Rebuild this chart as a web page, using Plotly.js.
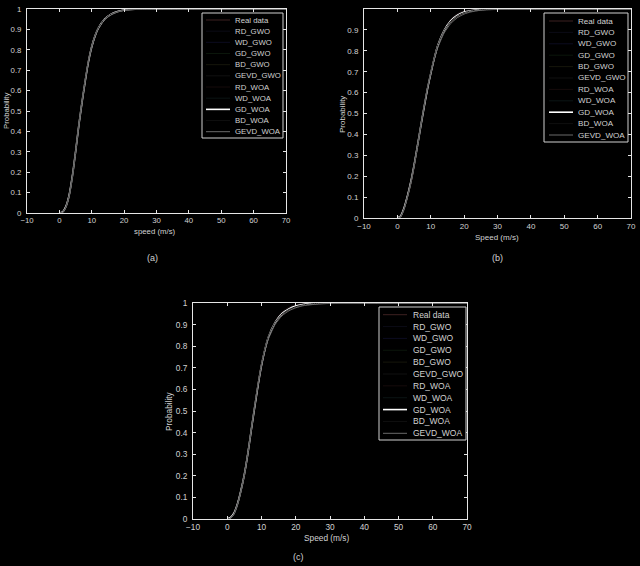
<!DOCTYPE html>
<html>
<head>
<meta charset="utf-8">
<script src="https://cdn.plot.ly/plotly-3.0.1.min.js"></script>
<style>html,body{margin:0;padding:0;background:#000;}#chart{width:640px;height:566px;}</style>
</head>
<body>
<div id="chart"></div>
<script>
// ---------- data ----------
const speed = [0,1,2,3,4,5,6,7,8,9,10,11,12,14,16,18,20,22,25,30,40,70];
const seriesNames = ['Real data','RD_GWO','WD_GWO','GD_GWO','BD_GWO','GEVD_GWO','RD_WOA','WD_WOA','GD_WOA','BD_WOA','GEVD_WOA'];
const xTickVals = [-10,0,10,20,30,40,50,60,70];

// panel (a)
const realA    = [0,0.003,0.030,0.080,0.180,0.300,0.430,0.540,0.650,0.750,0.820,0.870,0.905,0.950,0.973,0.987,0.994,0.998,0.999,1,1,1];
const rdGwoA   = [0,0.006,0.035,0.090,0.180,0.290,0.420,0.540,0.650,0.740,0.810,0.865,0.905,0.952,0.977,0.990,0.996,0.998,1,1,1,1];
const wdGwoA   = [0,0.004,0.030,0.085,0.175,0.295,0.425,0.545,0.650,0.745,0.815,0.868,0.906,0.953,0.976,0.988,0.995,0.998,0.999,1,1,1];
const gdGwoA   = [0,0.005,0.032,0.087,0.178,0.298,0.428,0.542,0.648,0.742,0.815,0.866,0.904,0.951,0.975,0.988,0.995,0.998,1,1,1,1];
const bdGwoA   = [0,0.004,0.028,0.083,0.177,0.300,0.430,0.545,0.652,0.748,0.818,0.870,0.907,0.952,0.975,0.987,0.994,0.997,0.999,1,1,1];
const gevdGwoA = [0,0.002,0.027,0.080,0.180,0.302,0.432,0.540,0.646,0.744,0.816,0.866,0.902,0.948,0.972,0.986,0.993,0.997,0.999,1,1,1];
const rdWoaA   = [0,0.006,0.036,0.091,0.182,0.292,0.421,0.541,0.650,0.741,0.811,0.866,0.905,0.953,0.978,0.990,0.996,0.999,1,1,1,1];
const wdWoaA   = [0,0.004,0.031,0.086,0.176,0.296,0.426,0.546,0.651,0.746,0.816,0.868,0.906,0.952,0.976,0.988,0.995,0.998,0.999,1,1,1];
const gdWoaA   = [0,0.005,0.031,0.086,0.179,0.299,0.429,0.543,0.649,0.743,0.815,0.867,0.905,0.951,0.975,0.988,0.995,0.998,1,1,1,1];
const bdWoaA   = [0,0.004,0.029,0.084,0.176,0.299,0.431,0.546,0.653,0.747,0.817,0.869,0.907,0.952,0.975,0.987,0.994,0.997,0.999,1,1,1];
const gevdWoaA = [0,0.002,0.026,0.081,0.181,0.303,0.431,0.541,0.647,0.745,0.815,0.865,0.902,0.948,0.971,0.985,0.993,0.997,0.999,1,1,1];

// panel (b)
const realB    = [0,0.008,0.045,0.100,0.160,0.240,0.340,0.440,0.530,0.620,0.690,0.765,0.825,0.895,0.940,0.966,0.981,0.990,0.997,1,1,1];
const rdGwoB   = [0,0.012,0.050,0.105,0.175,0.255,0.345,0.435,0.525,0.610,0.685,0.755,0.815,0.900,0.950,0.977,0.990,0.996,0.999,1,1,1];
const wdGwoB   = [0,0.009,0.046,0.102,0.168,0.250,0.342,0.438,0.530,0.616,0.692,0.760,0.820,0.897,0.944,0.970,0.985,0.993,0.998,1,1,1];
const gdGwoB   = [0,0.010,0.047,0.103,0.170,0.251,0.343,0.437,0.528,0.615,0.690,0.759,0.819,0.896,0.943,0.969,0.984,0.992,0.998,1,1,1];
const bdGwoB   = [0,0.008,0.044,0.100,0.166,0.248,0.341,0.439,0.532,0.619,0.694,0.762,0.822,0.896,0.941,0.967,0.982,0.991,0.997,0.999,1,1];
const gevdGwoB = [0,0.005,0.040,0.098,0.168,0.252,0.346,0.442,0.534,0.618,0.690,0.755,0.810,0.884,0.930,0.958,0.975,0.985,0.994,0.998,1,1];
const rdWoaB   = [0,0.012,0.051,0.106,0.176,0.256,0.346,0.436,0.526,0.611,0.686,0.756,0.816,0.901,0.951,0.978,0.990,0.996,0.999,1,1,1];
const wdWoaB   = [0,0.009,0.046,0.101,0.167,0.249,0.341,0.437,0.529,0.617,0.693,0.761,0.821,0.898,0.945,0.971,0.986,0.993,0.998,1,1,1];
const gdWoaB   = [0,0.010,0.048,0.104,0.171,0.252,0.344,0.438,0.529,0.616,0.691,0.760,0.820,0.897,0.944,0.970,0.985,0.992,0.998,1,1,1];
const bdWoaB   = [0,0.008,0.045,0.101,0.167,0.249,0.342,0.440,0.533,0.620,0.695,0.763,0.823,0.897,0.942,0.968,0.983,0.991,0.997,0.999,1,1];
const gevdWoaB = [0,0.005,0.041,0.099,0.169,0.253,0.347,0.443,0.535,0.619,0.691,0.756,0.811,0.885,0.931,0.959,0.976,0.986,0.994,0.998,1,1];

// panel (c)
const realC    = [0,0.005,0.025,0.070,0.130,0.200,0.300,0.410,0.520,0.630,0.720,0.790,0.840,0.905,0.945,0.966,0.980,0.988,0.995,0.999,1,1];
const rdGwoC   = [0,0.009,0.033,0.075,0.135,0.212,0.305,0.408,0.512,0.612,0.702,0.778,0.838,0.915,0.958,0.980,0.991,0.996,0.999,1,1,1];
const wdGwoC   = [0,0.006,0.027,0.070,0.131,0.206,0.302,0.410,0.518,0.622,0.712,0.785,0.841,0.910,0.950,0.972,0.985,0.992,0.997,1,1,1];
const gdGwoC   = [0,0.007,0.029,0.072,0.133,0.208,0.303,0.409,0.516,0.619,0.710,0.783,0.840,0.910,0.951,0.973,0.986,0.993,0.998,1,1,1];
const bdGwoC   = [0,0.005,0.025,0.068,0.129,0.204,0.301,0.411,0.520,0.624,0.715,0.788,0.844,0.911,0.949,0.970,0.983,0.991,0.997,0.999,1,1];
const gevdGwoC = [0,0.003,0.021,0.065,0.130,0.209,0.307,0.414,0.520,0.620,0.708,0.778,0.832,0.900,0.940,0.963,0.977,0.986,0.993,0.998,1,1];
const rdWoaC   = [0,0.009,0.034,0.076,0.136,0.213,0.306,0.409,0.513,0.613,0.703,0.779,0.839,0.916,0.959,0.981,0.991,0.996,0.999,1,1,1];
const wdWoaC   = [0,0.006,0.027,0.071,0.132,0.207,0.303,0.411,0.519,0.623,0.713,0.786,0.842,0.910,0.950,0.972,0.985,0.992,0.997,1,1,1];
const gdWoaC   = [0,0.007,0.028,0.071,0.132,0.207,0.302,0.410,0.517,0.620,0.711,0.784,0.841,0.910,0.951,0.973,0.986,0.993,0.998,1,1,1];
const bdWoaC   = [0,0.005,0.026,0.069,0.130,0.205,0.302,0.412,0.521,0.625,0.716,0.789,0.845,0.911,0.949,0.970,0.983,0.991,0.997,0.999,1,1];
const gevdWoaC = [0,0.003,0.022,0.066,0.131,0.210,0.308,0.415,0.521,0.621,0.709,0.779,0.833,0.901,0.941,0.964,0.978,0.987,0.993,0.998,1,1];

const panelSeries = [
  [realA, rdGwoA, wdGwoA, gdGwoA, bdGwoA, gevdGwoA, rdWoaA, wdWoaA, gdWoaA, bdWoaA, gevdWoaA],
  [realB, rdGwoB, wdGwoB, gdGwoB, bdGwoB, gevdGwoB, rdWoaB, wdWoaB, gdWoaB, bdWoaB, gevdWoaB],
  [realC, rdGwoC, wdGwoC, gdGwoC, bdGwoC, gevdGwoC, rdWoaC, wdWoaC, gdWoaC, bdWoaC, gevdWoaC]
];
const xTitles = ['speed (m/s)', 'Speed (m/s)', 'Speed (m/s)'];
const panelLabels = ['(a)', '(b)', '(c)'];

// ---------- styles / layout geometry (pixels) ----------
const W = 640, H = 566;
const lineColors = ['#3d2020','#0b0b16','#0c0c20','#0b160b','#16160b','#111111','#160b0b','#0b1414','#ffffff','#0f0f0f','#6a6a6a'];
const lineWidths = [1,1,1,1,1,1,1,1,1.6,1,1];
const geom = [
  {l:27, r:286, t:9, b:213, yTicks:[0,0.1,0.2,0.3,0.4,0.5,0.6,0.7,0.8,0.9,1],
   xt:{x:155,y:231}, yt:{x:6,y:111}, lab:{x:152,y:258},
   lg:{l:202,r:283,t:13,b:138,y0:20,dy:11.17,s0:206,s1:230,tx:233,fs:7.8}, fs:7.8},
  {l:364, r:631, t:9, b:218, yTicks:[0,0.1,0.2,0.3,0.4,0.5,0.6,0.7,0.8,0.9],
   xt:{x:497,y:237}, yt:{x:342,y:115}, lab:{x:497,y:258},
   lg:{l:544,r:628,t:13,b:142,y0:21,dy:11.4,s0:549,s1:573,tx:576,fs:8.1}, fs:8},
  {l:193, r:467, t:303, b:519, yTicks:[0,0.1,0.2,0.3,0.4,0.5,0.6,0.7,0.8,0.9,1],
   xt:{x:326,y:538}, yt:{x:169,y:411}, lab:{x:298,y:557},
   lg:{l:379,r:466,t:307,b:440,y0:314.7,dy:11.86,s0:383,s1:407,tx:411,fs:8.5}, fs:8.3}
];
const px = x => x / W;
const py = y => 1 - y / H;
const textCol = '#d2d2d2';
const fontFam = 'Liberation Sans, Arial, sans-serif';

const traces = [];
const layout = {
  width: W, height: H,
  margin: {l:0, r:0, t:0, b:0},
  paper_bgcolor: '#000', plot_bgcolor: '#000',
  showlegend: false,
  font: {family: fontFam, color: textCol, size: 8},
  annotations: [], shapes: []
};

geom.forEach((g, p) => {
  const xa = p === 0 ? 'x' : 'x' + (p + 1);
  const ya = p === 0 ? 'y' : 'y' + (p + 1);
  const xKey = p === 0 ? 'xaxis' : 'xaxis' + (p + 1);
  const yKey = p === 0 ? 'yaxis' : 'yaxis' + (p + 1);
  const axCommon = {
    showgrid: false, zeroline: false, showline: true, linecolor: '#e6e6e6', linewidth: 1,
    mirror: 'ticks', ticks: 'inside', ticklen: 3, tickcolor: '#e6e6e6', tickwidth: 1,
    tickfont: {family: fontFam, size: g.fs, color: textCol}, fixedrange: true
  };
  layout[xKey] = Object.assign({}, axCommon, {
    domain: [px(g.l), px(g.r)], range: [-10, 70], tickvals: xTickVals,
    anchor: ya, ticklabelstandoff: 0
  });
  layout[yKey] = Object.assign({}, axCommon, {
    domain: [py(g.b), py(g.t)], range: [0, 1], tickvals: g.yTicks,
    anchor: xa, ticklabelstandoff: 3
  });
  panelSeries[p].forEach((vals, i) => {
    traces.push({
      type: 'scatter', mode: 'lines', x: speed, y: vals, xaxis: xa, yaxis: ya,
      name: seriesNames[i], line: {color: lineColors[i], width: lineWidths[i], shape: 'spline', smoothing: 0.6},
      hoverinfo: 'skip'
    });
  });
  // axis titles and panel label
  layout.annotations.push({xref:'paper', yref:'paper', x:px(g.xt.x), y:py(g.xt.y), text:xTitles[p],
    showarrow:false, xanchor:'center', yanchor:'middle', font:{size:g.fs, color:textCol}});
  layout.annotations.push({xref:'paper', yref:'paper', x:px(g.yt.x), y:py(g.yt.y), text:'Probability',
    textangle:-90, showarrow:false, xanchor:'center', yanchor:'middle', font:{size:g.fs, color:textCol}});
  layout.annotations.push({xref:'paper', yref:'paper', x:px(g.lab.x), y:py(g.lab.y), text:panelLabels[p],
    showarrow:false, xanchor:'center', yanchor:'middle', font:{size:9, color:textCol}});
  // legend box (MATLAB style, compact)
  const L = g.lg;
  layout.shapes.push({type:'rect', xref:'paper', yref:'paper', x0:px(L.l), x1:px(L.r), y0:py(L.b), y1:py(L.t),
    line:{color:'#d0d0d0', width:1}, fillcolor:'#000', layer:'above'});
  seriesNames.forEach((nm, i) => {
    const yy = L.y0 + i * L.dy;
    layout.shapes.push({type:'line', xref:'paper', yref:'paper', x0:px(L.s0), x1:px(L.s1), y0:py(yy), y1:py(yy),
      line:{color:lineColors[i], width:lineWidths[i]}, layer:'above'});
    layout.annotations.push({xref:'paper', yref:'paper', x:px(L.tx), y:py(yy), text:nm, showarrow:false,
      xanchor:'left', yanchor:'middle', font:{size:L.fs, color:textCol}});
  });
});

Plotly.newPlot('chart', traces, layout, {displayModeBar:false, staticPlot:true});
</script>
</body>
</html>
